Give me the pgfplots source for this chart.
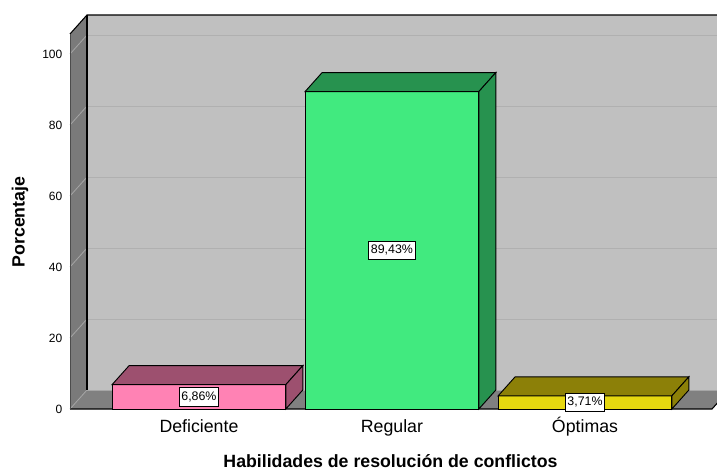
\documentclass[border=0pt]{standalone}
\usepackage{fontspec}
\setmainfont{Liberation Sans}
\usepackage{pgfplots}
\pgfplotsset{compat=1.18}
\definecolor{wallback}{RGB}{192,192,192}
\definecolor{wallside}{RGB}{122,122,122}
\definecolor{floorc}{RGB}{128,128,128}
\definecolor{gridback}{RGB}{176,176,176}
\definecolor{gridside}{RGB}{165,165,165}
\definecolor{pinkF}{RGB}{255,130,180}
\definecolor{pinkD}{RGB}{157,80,111}
\definecolor{greenF}{RGB}{65,234,127}
\definecolor{greenD}{RGB}{39,146,79}
\definecolor{yelF}{RGB}{230,216,15}
\definecolor{yelD}{RGB}{140,128,8}
\begin{document}
\begin{tikzpicture}
\useasboundingbox (0,0) rectangle (537.75pt,353.25pt);
\begin{axis}[
  at={(52.5pt,46.5pt)}, anchor=south west,
  scale only axis, width=494.25pt, height=295.5pt,
  xmin=-0.668, xmax=2.746, ymin=0, ymax=111,
  clip=false,
  axis line style={draw=none},
  major tick length=0pt,
  xtick={0,1,2}, xticklabels={Deficiente,Regular,Óptimas},
  ytick={0,20,40,60,80,100},
  /pgf/number format/assume math mode=true,
  yticklabel style={font=\fontsize{9}{10}\selectfont, xshift=-2.25pt},
  xticklabel style={font=\fontsize{13.3}{15}\selectfont, anchor=north, text height=12pt, text depth=3pt, yshift=-2.2pt},
  xlabel={Habilidades de resolución de conflictos},
  ylabel={Porcentaje},
  xlabel style={at={(axis description cs:0.4863,-0.1497)}, anchor=base, font=\bfseries\fontsize{13.3}{15}\selectfont},
  ylabel style={at={(axis description cs:-0.069,0.4746)}, anchor=base, font=\bfseries\fontsize{13.3}{15}\selectfont},
  every axis plot/.append style={mark=none},
]
% back wall
\addplot[fill=wallback, draw=none] coordinates {(-0.58,5.35) (2.95,5.35) (2.95,111) (-0.58,111)} -- cycle;
% left wall
\addplot[fill=wallside, draw=none] coordinates {(-0.668,0) (-0.58,5.35) (-0.58,111) (-0.668,105.65)} -- cycle;
% floor
\addplot[fill=floorc, draw=none] coordinates {(-0.668,0) (2.658,0) (2.746,5.35) (-0.58,5.35)} -- cycle;
% grid on back wall
\addplot[gridback, line width=0.7pt] coordinates {(-0.58,25.35) (2.95,25.35)};
\addplot[gridback, line width=0.7pt] coordinates {(-0.58,45.35) (2.95,45.35)};
\addplot[gridback, line width=0.7pt] coordinates {(-0.58,65.35) (2.95,65.35)};
\addplot[gridback, line width=0.7pt] coordinates {(-0.58,85.35) (2.95,85.35)};
\addplot[gridback, line width=0.7pt] coordinates {(-0.58,105.35) (2.95,105.35)};
\addplot[gray!70, line width=0.5pt] coordinates {(-0.58,5.35) (2.95,5.35)};
% grid on left wall
\addplot[gridside, line width=0.6pt] coordinates {(-0.668,0) (-0.58,5.35)};
\addplot[gridside, line width=0.6pt] coordinates {(-0.668,20) (-0.58,25.35)};
\addplot[gridside, line width=0.6pt] coordinates {(-0.668,40) (-0.58,45.35)};
\addplot[gridside, line width=0.6pt] coordinates {(-0.668,60) (-0.58,65.35)};
\addplot[gridside, line width=0.6pt] coordinates {(-0.668,80) (-0.58,85.35)};
\addplot[gridside, line width=0.6pt] coordinates {(-0.668,100) (-0.58,105.35)};
% frame lines
\addplot[black, line width=0.8pt] coordinates {(-0.668,105.65) (-0.58,111) (2.95,111)};
\addplot[black, line width=0.8pt] coordinates {(-0.58,5.35) (-0.58,111)};
\addplot[black, line width=0.8pt] coordinates {(-0.668,0) (2.658,0) (2.746,5.35)};
\addplot[black!70, line width=0.5pt] coordinates {(-0.668,0) (-0.668,105.65)};
% bar Deficiente 6.86
\addplot[fill=pinkF, draw=black, line width=0.7pt] coordinates {(-0.45,0) (0.45,0) (0.45,6.86) (-0.45,6.86)} -- cycle;
\addplot[fill=pinkD, draw=black, line width=0.7pt] coordinates {(-0.45,6.86) (0.45,6.86) (0.538,12.21) (-0.362,12.21)} -- cycle;
\addplot[fill=pinkD, draw=black, line width=0.7pt] coordinates {(0.45,0) (0.538,5.35) (0.538,12.21) (0.45,6.86)} -- cycle;
% bar Regular 89.43
\addplot[fill=greenF, draw=black, line width=0.7pt] coordinates {(0.55,0) (1.45,0) (1.45,89.43) (0.55,89.43)} -- cycle;
\addplot[fill=greenD, draw=black, line width=0.7pt] coordinates {(0.55,89.43) (1.45,89.43) (1.538,94.78) (0.638,94.78)} -- cycle;
\addplot[fill=greenD, draw=black, line width=0.7pt] coordinates {(1.45,0) (1.538,5.35) (1.538,94.78) (1.45,89.43)} -- cycle;
% bar Optimas 3.71
\addplot[fill=yelF, draw=black, line width=0.7pt] coordinates {(1.55,0) (2.45,0) (2.45,3.71) (1.55,3.71)} -- cycle;
\addplot[fill=yelD, draw=black, line width=0.7pt] coordinates {(1.55,3.71) (2.45,3.71) (2.538,9.06) (1.638,9.06)} -- cycle;
\addplot[fill=yelD, draw=black, line width=0.7pt] coordinates {(2.45,0) (2.538,5.35) (2.538,9.06) (2.45,3.71)} -- cycle;
% value labels
\addplot[draw=none, mark=none, nodes near coords={\pgfplotspointmeta\%}, point meta=explicit symbolic,
  every node near coord/.style={anchor=center, fill=white, draw=black, line width=0.5pt,
    font=\fontsize{9.3}{10}\selectfont, text height=6.8pt, text depth=1.6pt, inner xsep=1.6pt, inner ysep=2.8pt}]
  table[x=x, y=y, meta=lab] {
x y lab
0 3.43 6,86
1 44.715 89,43
2 1.855 3,71
};
\end{axis}
\end{tikzpicture}
\end{document}
